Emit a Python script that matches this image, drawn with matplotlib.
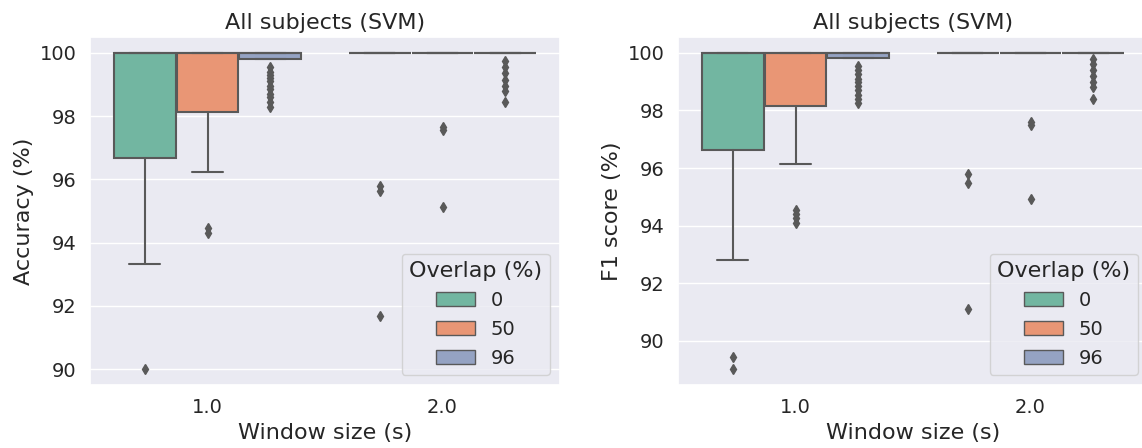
import matplotlib
matplotlib.use("Agg")
import matplotlib.pyplot as plt
from matplotlib.patches import Patch
import seaborn as sns

sns.set_theme(style="darkgrid")
plt.rcParams['font.family'] = ['DejaVu Sans']

windows = ["1.0", "2.0"]
overlaps = ["0", "50", "96"]

# ---- Accuracy (left) : [window][overlap] ----
acc_q1 = [[96.69, 98.14, 99.82], [100.0, 100.0, 100.0]]
acc_med = [[100.0, 100.0, 100.0], [100.0, 100.0, 100.0]]
acc_q3 = [[100.0, 100.0, 100.0], [100.0, 100.0, 100.0]]
acc_whislo = [[93.34, 96.22, 99.82], [100.0, 100.0, 100.0]]
acc_whishi = [[100.0, 100.0, 100.0], [100.0, 100.0, 100.0]]
acc_fliers = [
    [[90.0],
     [94.45, 94.3],
     [99.55, 99.4, 99.3, 99.2, 99.1, 98.95, 98.85, 98.7, 98.6, 98.45, 98.3]],
    [[95.8, 95.62, 91.68],
     [97.65, 97.56, 95.12],
     [99.75, 99.55, 99.35, 99.15, 98.95, 98.8, 98.45]],
]

# ---- F1 score (right) ----
f1_q1 = [[96.64, 98.14, 99.81], [100.0, 100.0, 100.0]]
f1_med = [[100.0, 100.0, 100.0], [100.0, 100.0, 100.0]]
f1_q3 = [[100.0, 100.0, 100.0], [100.0, 100.0, 100.0]]
f1_whislo = [[92.8, 96.14, 99.81], [100.0, 100.0, 100.0]]
f1_whishi = [[100.0, 100.0, 100.0], [100.0, 100.0, 100.0]]
f1_fliers = [
    [[89.44, 89.02],
     [94.55, 94.4, 94.25, 94.1],
     [99.55, 99.4, 99.25, 99.1, 99.0, 98.85, 98.7, 98.55, 98.4, 98.25]],
    [[95.78, 95.47, 91.11],
     [97.6, 97.5, 94.92],
     [99.8, 99.6, 99.4, 99.2, 99.0, 98.8, 98.4]],
]

title = "All subjects (SVM)"
xlabel = "Window size (s)"
ylabels = ["Accuracy (%)", "F1 score (%)"]
legend_title = "Overlap (%)"

base = sns.color_palette("Set2", 3)
colors = [sns.desaturate(c, 0.75) for c in base]
gray = "#595959"

fig = plt.figure(figsize=(11.42, 4.48), dpi=100)
W, H = 1142, 448
ax1 = fig.add_axes([90 / W, (H - 385) / H, 470 / W, 348 / H])
ax2 = fig.add_axes([678 / W, (H - 385) / H, 470 / W, 348 / H])

n = len(overlaps)
width = 0.8
bw = width / n * 0.98


def draw(ax, q1, med, q3, wlo, whi, fl, ylabel):
    for i in range(len(windows)):
        for j in range(n):
            st = dict(med=med[i][j], q1=q1[i][j], q3=q3[i][j],
                      whislo=wlo[i][j], whishi=whi[i][j], fliers=fl[i][j])
            pos = i - width / 2 + width / n * (j + 0.5)
            ax.bxp([st], positions=[pos], widths=bw, patch_artist=True,
                   boxprops=dict(facecolor=colors[j], edgecolor=gray, linewidth=1.5),
                   medianprops=dict(color=gray, linewidth=1.5),
                   whiskerprops=dict(color=gray, linewidth=1.5),
                   capprops=dict(color=gray, linewidth=1.5),
                   flierprops=dict(marker="d", markerfacecolor=gray,
                                   markeredgecolor=gray, markersize=5,
                                   linestyle="none"),
                   manage_ticks=False)
    ax.set_xlim(-0.5, len(windows) - 0.5)
    ax.set_xticks(range(len(windows)))
    ax.set_xticklabels(windows)
    ax.grid(axis="x", visible=False)
    ax.tick_params(labelsize=14)
    ax.set_xlabel(xlabel, fontsize=16)
    ax.set_ylabel(ylabel, fontsize=16)
    ax.set_title(title, fontsize=16)
    handles = [Patch(facecolor=colors[j], edgecolor=gray, linewidth=1.0,
                     label=overlaps[j]) for j in range(n)]
    ax.legend(handles=handles, title=legend_title, loc="lower right",
              fontsize=14, title_fontsize=16)


draw(ax1, acc_q1, acc_med, acc_q3, acc_whislo, acc_whishi, acc_fliers, ylabels[0])
draw(ax2, f1_q1, f1_med, f1_q3, f1_whislo, f1_whishi, f1_fliers, ylabels[1])

fig.savefig("out.png", dpi=100)
